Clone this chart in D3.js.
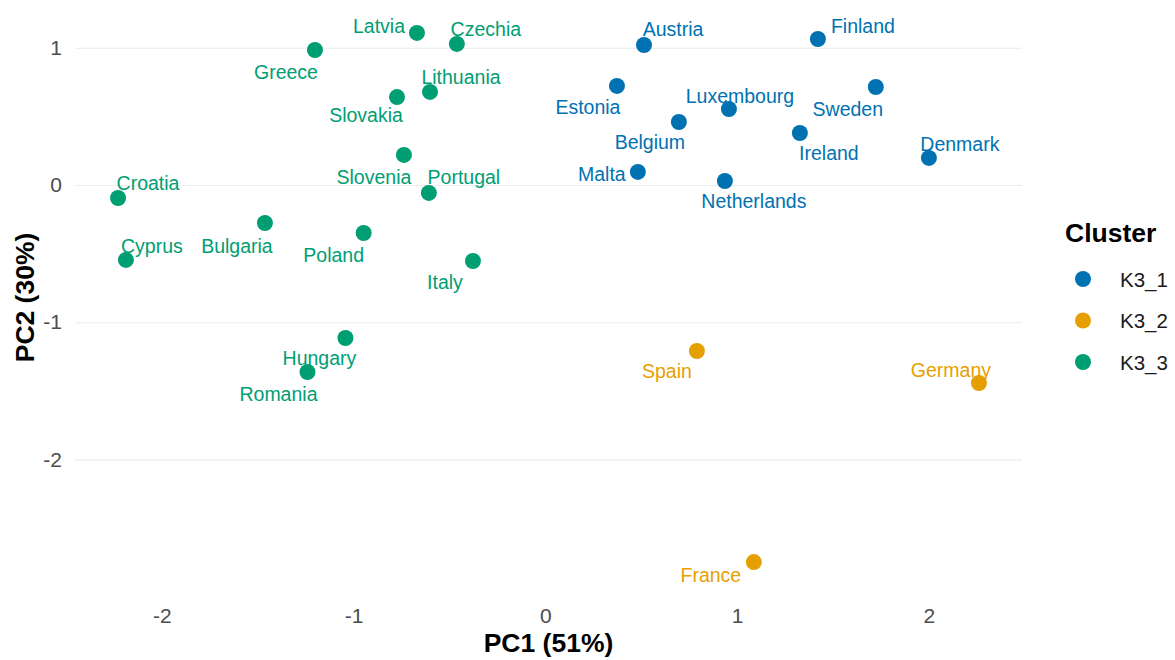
<!DOCTYPE html>
<html>
<head>
<meta charset="utf-8">
<script src="https://cdn.jsdelivr.net/npm/d3@7"></script>
<style>
  html, body { margin: 0; padding: 0; background: #ffffff; }
  svg { display: block; font-family: "Liberation Sans", Arial, Helvetica, sans-serif; }
</style>
</head>
<body>
<svg id="chart" width="1175" height="660"></svg>
<script>
// ---- data ----
const countries = ["Latvia","Czechia","Greece","Slovakia","Lithuania","Slovenia","Portugal","Croatia","Bulgaria","Poland","Cyprus","Italy","Hungary","Romania",
                   "Austria","Estonia","Luxembourg","Belgium","Malta","Netherlands","Finland","Sweden","Ireland","Denmark",
                   "Spain","Germany","France"];
const pc1 = [-0.670,-0.462,-1.202,-0.774,-0.602,-0.738,-0.608,-2.229,-1.463,-0.948,-2.188,-0.378,-1.043,-1.241,
             0.514,0.373,0.957,0.696,0.482,0.936,1.421,1.723,1.327,2.000,
             0.790,2.261,1.087];
const pc2 = [1.108,1.028,0.984,0.641,0.678,0.219,-0.058,-0.095,-0.277,-0.350,-0.546,-0.554,-1.115,-1.363,
             1.020,0.722,0.554,0.459,0.095,0.029,1.064,0.714,0.379,0.197,
             -1.210,-1.443,-2.748];
const cluster = ["K3_3","K3_3","K3_3","K3_3","K3_3","K3_3","K3_3","K3_3","K3_3","K3_3","K3_3","K3_3","K3_3","K3_3",
                 "K3_1","K3_1","K3_1","K3_1","K3_1","K3_1","K3_1","K3_1","K3_1","K3_1",
                 "K3_2","K3_2","K3_2"];
const clusterLevels = ["K3_1","K3_2","K3_3"];
const xTicks = [-2,-1,0,1,2];
const xTickLabels = ["-2","-1","0","1","2"];
const yTicks = [-2,-1,0,1];
const yTickLabels = ["-2","-1","0","1"];
const xTitle = "PC1 (51%)";
const yTitle = "PC2 (30%)";
const legendTitle = "Cluster";

// ---- layout (label placement, pixels relative to the point) ----
const labelOffset = {
  Latvia:[-38,-7], Czechia:[29,-15], Greece:[-29,22], Slovakia:[-31,18], Lithuania:[31,-15],
  Slovenia:[-30,22], Portugal:[35,-16], Croatia:[30,-15], Bulgaria:[-28,23], Poland:[-30,22],
  Cyprus:[26,-14], Italy:[-28,21], Hungary:[-26,20], Romania:[-29,22],
  Austria:[29,-16], Estonia:[-29,21], Luxembourg:[11,-13], Belgium:[-29,20], Malta:[-36,2],
  Netherlands:[29,20], Finland:[45,-13], Sweden:[-28,22], Ireland:[29,20], Denmark:[31,-14],
  Spain:[-30,20], Germany:[-28,-13], France:[-43,13]
};

const palette = ["#0072B2","#E69F00","#009E73"];

const data = countries.map((c,i) => ({name:c, x:pc1[i], y:pc2[i], k:cluster[i]}));

const svg = d3.select("#chart");
const panel = {left:75, right:1022, top:6.5, bottom:588.5};

function expand(ext, f) { const s = ext[1]-ext[0]; return [ext[0]-s*f, ext[1]+s*f]; }

const x = d3.scaleLinear().domain(expand(d3.extent(pc1), 0.05)).range([panel.left, panel.right]);
const y = d3.scaleLinear().domain(expand(d3.extent(pc2), 0.05)).range([panel.bottom, panel.top]);
const color = d3.scaleOrdinal().domain(clusterLevels).range(palette);

// gridlines (horizontal only)
const yGrid = d3.axisLeft(y).tickValues(yTicks).tickSize(-(panel.right-panel.left)).tickFormat("");
svg.append("g")
  .attr("transform", `translate(${panel.left},0)`)
  .call(yGrid)
  .call(g => g.select(".domain").remove())
  .call(g => g.selectAll("line").attr("stroke","#EBEBEB").attr("stroke-width",1.1));

// y tick labels
const yAxis = d3.axisLeft(y).tickValues(yTicks).tickSize(0).tickPadding(13)
  .tickFormat((d,i) => yTickLabels[i]);
svg.append("g")
  .attr("transform", `translate(${panel.left},0)`)
  .call(yAxis)
  .call(g => g.select(".domain").remove())
  .call(g => g.selectAll("text").attr("fill","#4D4D4D").style("font-size","21px")
      .attr("font-family",'"Liberation Sans", Arial, sans-serif'));

// x tick labels
const xAxis = d3.axisBottom(x).tickValues(xTicks).tickSize(0).tickPadding(0)
  .tickFormat((d,i) => xTickLabels[i]);
svg.append("g")
  .attr("transform", `translate(0,${panel.bottom})`)
  .call(xAxis)
  .call(g => g.select(".domain").remove())
  .call(g => g.selectAll("text").attr("fill","#4D4D4D").style("font-size","21px")
      .attr("font-family",'"Liberation Sans", Arial, sans-serif')
      .attr("dy", null).attr("y", 26.5).attr("dominant-baseline","central"));

// points
svg.append("g").selectAll("circle").data(data).join("circle")
  .attr("cx", d => x(d.x)).attr("cy", d => y(d.y)).attr("r", 8)
  .attr("fill", d => color(d.k));

// labels
svg.append("g").selectAll("text").data(data).join("text")
  .attr("x", d => x(d.x) + labelOffset[d.name][0])
  .attr("y", d => y(d.y) + labelOffset[d.name][1])
  .attr("text-anchor","middle").attr("dominant-baseline","central")
  .style("font-size","19.5px")
  .attr("fill", d => color(d.k))
  .text(d => d.name);

// axis titles
svg.append("text")
  .attr("x", (panel.left+panel.right)/2).attr("y", 643)
  .attr("text-anchor","middle").attr("dominant-baseline","central")
  .style("font-size","26.5px").style("font-weight","bold").attr("fill","#000")
  .text(xTitle);
svg.append("text")
  .attr("transform", `translate(25,${(panel.top+panel.bottom)/2}) rotate(-90)`)
  .attr("text-anchor","middle").attr("dominant-baseline","central")
  .style("font-size","26.5px").style("font-weight","bold").attr("fill","#000")
  .text(yTitle);

// legend
const lg = svg.append("g");
lg.append("text").attr("x",1065).attr("y",233).attr("dominant-baseline","central")
  .style("font-size","26.5px").style("font-weight","bold").attr("fill","#000").text(legendTitle);
const items = lg.selectAll("g.item").data(clusterLevels).join("g")
  .attr("class","item").attr("transform",(d,i)=>`translate(0,${279 + i*41.5})`);
items.append("circle").attr("cx",1083).attr("cy",0).attr("r",8).attr("fill",d=>color(d));
items.append("text").attr("x",1120).attr("y",0).attr("dominant-baseline","central")
  .style("font-size","20.5px").attr("fill","#1a1a1a").text(d=>d);
</script>
</body>
</html>
